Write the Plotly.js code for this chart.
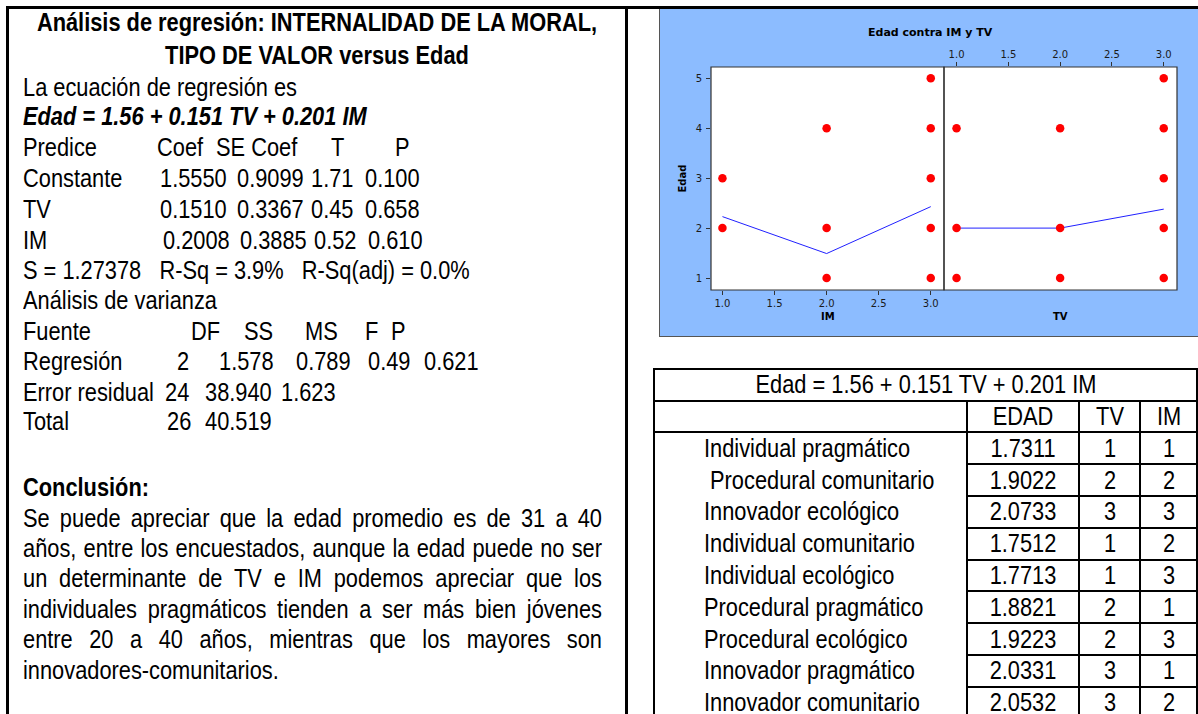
<!DOCTYPE html>
<html><head><meta charset="utf-8">
<script src="https://cdn.plot.ly/plotly-3.0.1.min.js"></script>
<style>
html,body{margin:0;padding:0;background:#fff;width:1198px;height:714px;overflow:hidden;}
body{position:relative;}
.t{position:absolute;white-space:pre;color:#000;line-height:20px;height:20px;}
.ln{position:absolute;background:#000;}
#chart{position:absolute;left:659px;top:9px;width:539px;height:328px;border-left:1px solid #555;border-bottom:1px solid #555;box-sizing:border-box;}
</style></head><body>
<div id="chart"></div>
<script>
// ---------------- DATA ----------------
const titleLines = ["Análisis de regresión: INTERNALIDAD DE LA MORAL,", "TIPO DE VALOR versus Edad"];
const introLine = "La ecuación de regresión es";
const equationText = "Edad = 1.56 + 0.151 TV + 0.201 IM";
const coefHeader = ["Predice", "Coef", "SE Coef", "T", "P"];
const coefRows = [
  ["Constante", "1.5550", "0.9099", "1.71", "0.100"],
  ["TV", "0.1510", "0.3367", "0.45", "0.658"],
  ["IM", "0.2008", "0.3885", "0.52", "0.610"]
];
const fitLine = "S = 1.27378   R-Sq = 3.9%   R-Sq(adj) = 0.0%";
const anovaTitle = "Análisis de varianza";
const anovaHeader = ["Fuente", "DF", "SS", "MS", "F", "P"];
const anovaRows = [
  ["Regresión", "2", "1.578", "0.789", "0.49", "0.621"],
  ["Error residual", "24", "38.940", "1.623"],
  ["Total", "26", "40.519"]
];
const conclTitle = "Conclusión:";
const paragraphLines = [
  "Se puede apreciar que la edad promedio es de 31 a 40",
  "años, entre los encuestados, aunque la edad puede no ser",
  "un determinante de TV e IM podemos apreciar que los",
  "individuales pragmáticos tienden a ser más bien jóvenes",
  "entre 20 a 40 años, mientras que los mayores son",
  "innovadores-comunitarios."
];

// chart data
const chartTitle = "Edad contra IM y TV";
const imX = [1, 1, 2, 2, 2, 3, 3, 3, 3, 3];
const imY = [3, 2, 4, 2, 1, 5, 4, 3, 2, 1];
const tvX = [1, 1, 1, 2, 2, 2, 3, 3, 3, 3, 3];
const tvY = [4, 2, 1, 4, 2, 1, 5, 4, 3, 2, 1];
const levels = [1, 2, 3];
const imMeans = [2.23, 1.49, 2.43];
const tvMeans = [2.0, 2.0, 2.38];
const axisTicks = [1, 1.5, 2, 2.5, 3];
const edadTicks = [1, 2, 3, 4, 5];

// table data
const tableTitle = "Edad = 1.56 + 0.151 TV + 0.201 IM";
const tableHeader = ["", "EDAD", "TV", "IM"];
const tipoNames = ["Individual pragmático", " Procedural comunitario", "Innovador ecológico", "Individual comunitario",
  "Individual ecológico", "Procedural pragmático", "Procedural ecológico", "Innovador pragmático", "Innovador comunitario"];
const edadPred = ["1.7311", "1.9022", "2.0733", "1.7512", "1.7713", "1.8821", "1.9223", "2.0331", "2.0532"];
const tvVals = [1, 2, 3, 1, 1, 2, 2, 3, 3];
const imVals = [1, 2, 3, 2, 3, 1, 3, 1, 2];

// ---------------- FONT ----------------
function fontAvailable(name) {
  const c = document.createElement('canvas').getContext('2d');
  const s = 'abcdefghijklmMWl1.0 Análisis';
  c.font = '40px monospace'; const a = c.measureText(s).width;
  c.font = '40px "' + name + '", monospace'; const b = c.measureText(s).width;
  return Math.abs(a - b) > 0.5;
}
const NARROW = fontAvailable('Liberation Sans Narrow');
const FAMILY = NARROW ? '"Liberation Sans Narrow","Arial Narrow",sans-serif' : '"Liberation Sans",Arial,sans-serif';
const SX = NARROW ? 1 : 0.82;
const FS = 26.6;

function addText(str, x, yc, align, opts) {
  opts = opts || {};
  const d = document.createElement('div');
  d.className = 't';
  d.textContent = str;
  d.style.fontFamily = FAMILY;
  d.style.fontSize = (opts.size || FS) + 'px';
  if (opts.bold) d.style.fontWeight = 'bold';
  if (opts.italic) d.style.fontStyle = 'italic';
  d.style.top = (yc - 10.5) + 'px';
  d.style.left = x + 'px';
  if (align === 'center') {
    d.style.transformOrigin = '50% 50%';
    d.style.transform = 'translateX(-50%) scaleX(' + SX + ')';
  } else {
    d.style.transformOrigin = '0 50%';
    d.style.transform = 'scaleX(' + SX + ')';
  }
  if (opts.width) {
    d.style.width = (opts.width / SX) + 'px';
    d.style.whiteSpace = 'normal';
    d.style.textAlign = 'justify';
    d.style.textAlignLast = opts.last ? 'left' : 'justify';
  }
  document.body.appendChild(d);
  return d;
}
function hline(x0, x1, y, t) {
  const d = document.createElement('div'); d.className = 'ln';
  d.style.left = x0 + 'px'; d.style.width = (x1 - x0) + 'px';
  d.style.top = (y - t / 2) + 'px'; d.style.height = t + 'px';
  document.body.appendChild(d);
}
function vline(x, y0, y1, t) {
  const d = document.createElement('div'); d.className = 'ln';
  d.style.left = (x - t / 2) + 'px'; d.style.width = t + 'px';
  d.style.top = y0 + 'px'; d.style.height = (y1 - y0) + 'px';
  document.body.appendChild(d);
}

// ---------------- DOCUMENT FRAME ----------------
hline(6, 1198, 7.5, 3);
vline(7.5, 6, 714, 3);
vline(626.5, 6, 714, 3);

// ---------------- LEFT TEXT ----------------
const LX = 23;
addText(titleLines[0], 317, 22, 'center', {bold: true});
addText(titleLines[1], 317, 55, 'center', {bold: true});
addText(introLine, LX, 87, 'left');
addText(equationText, LX, 116, 'left', {bold: true, italic: true});

const coefHeaderX = [LX, 157, 216, 331, 395];
const coefRowX = [[LX, 160, 237, 311, 365], [LX, 160, 237, 311, 365], [LX, 163, 240, 314, 368]];
const coefY = [147, 178, 209, 240];
coefHeader.forEach((s, i) => addText(s, coefHeaderX[i], coefY[0], 'left'));
coefRows.forEach((row, r) => row.forEach((s, i) => addText(s, coefRowX[r][i], coefY[r + 1], 'left')));

addText(fitLine, LX, 270, 'left');
addText(anovaTitle, LX, 300, 'left');
const anovaHeaderX = [LX, 191, 244, 305, 365, 391];
const anovaRowX = [[LX, 177, 219, 296, 368, 424], [LX, 165, 205, 281], [LX, 167, 205]];
const anovaY = [331, 361, 392, 421];
anovaHeader.forEach((s, i) => addText(s, anovaHeaderX[i], anovaY[0], 'left'));
anovaRows.forEach((row, r) => row.forEach((s, i) => addText(s, anovaRowX[r][i], anovaY[r + 1], 'left')));

addText(conclTitle, LX, 487, 'left', {bold: true});
const paraY0 = 518, paraStep = 30.4, paraW = 579;
paragraphLines.forEach((s, i) => addText(s, LX, paraY0 + i * paraStep, 'left',
  {width: paraW, last: i === paragraphLines.length - 1}));

// ---------------- TABLE ----------------
const TL = 654, TR = 1197, TT = 369;
const rowH = [31.7, 31.6];
const headerBottom = TT + rowH[0] + rowH[1];
const dataStep = 31.8;
const colX = [TL, 967, 1079, 1140, TR];
hline(TL - 1, TR + 1, TT, 2);
hline(TL - 1, TR + 1, TT + rowH[0], 2);
hline(TL - 1, TR + 1, headerBottom, 2);
vline(TL, TT - 1, 714, 2);
vline(TR, TT - 1, 714, 2);
for (let c = 1; c <= 3; c++) vline(colX[c], TT + rowH[0], 714, 2);
for (let k = 1; k <= tipoNames.length; k++) hline(colX[1], TR, headerBottom + k * dataStep, 2);

addText(tableTitle, (TL + TR) / 2, TT + rowH[0] / 2, 'center');
const colCenters = [null, (colX[1] + colX[2]) / 2, (colX[2] + colX[3]) / 2, (colX[3] + colX[4]) / 2];
const hdrY = TT + rowH[0] + rowH[1] / 2;
for (let c = 1; c < 4; c++) addText(tableHeader[c], colCenters[c], hdrY, 'center');
tipoNames.forEach((name, k) => {
  const yc = headerBottom + (k + 0.5) * dataStep;
  addText(name, 704, yc, 'left');
  addText(edadPred[k], colCenters[1], yc, 'center');
  addText(String(tvVals[k]), colCenters[2], yc, 'center');
  addText(String(imVals[k]), colCenters[3], yc, 'center');
});

// ---------------- CHART ----------------
const DIV_LEFT = 659, DIV_TOP = 9, DIV_W = 539, DIV_H = 328;
const M = {l: 51, r: 21, t: 58, b: 46};
function pX(px) { return (px - DIV_LEFT - M.l) / (DIV_W - M.l - M.r); }
function pY(py) { return (DIV_TOP + DIV_H - M.b - py) / (DIV_H - M.t - M.b); }

const tickFont = {family: 'DejaVu Sans, Verdana, sans-serif', size: 10, color: '#1a1a1a'};
const boldFont = {family: 'DejaVu Sans, Verdana, sans-serif', size: 10, color: '#000'};
const markerStyle = {color: '#ff0000', size: 8.5, line: {width: 0}};
const lineStyle = {color: '#2020ff', width: 1};

const traces = [
  {x: levels, y: imMeans, xaxis: 'x', yaxis: 'y', type: 'scatter', mode: 'lines', line: lineStyle, hoverinfo: 'skip'},
  {x: imX, y: imY, xaxis: 'x', yaxis: 'y', type: 'scatter', mode: 'markers', marker: markerStyle},
  {x: levels, y: tvMeans, xaxis: 'x2', yaxis: 'y', type: 'scatter', mode: 'lines', line: lineStyle, hoverinfo: 'skip'},
  {x: tvX, y: tvY, xaxis: 'x2', yaxis: 'y', type: 'scatter', mode: 'markers', marker: markerStyle}
];
const xCommon = {tickvals: axisTicks, tickformat: '.1f', ticks: 'outside', ticklen: 4, tickwidth: 1,
  tickcolor: '#333', showgrid: false, zeroline: false, showline: false, tickfont: tickFont, fixedrange: true};
const layout = {
  width: DIV_W - 1, height: DIV_H - 1,
  margin: M,
  paper_bgcolor: '#8CBCFF', plot_bgcolor: '#ffffff',
  showlegend: false,
  xaxis: Object.assign({}, xCommon, {domain: [0, 0.5], range: [0.89, 3.127], anchor: 'y', side: 'bottom'}),
  xaxis2: Object.assign({}, xCommon, {domain: [0.5, 1], range: [0.879, 3.128], anchor: 'y', side: 'top'}),
  yaxis: {range: [0.76, 5.227], tickvals: edadTicks, ticks: 'outside', ticklen: 4, tickwidth: 1, tickcolor: '#333',
    showgrid: false, zeroline: false, showline: false, tickfont: tickFont, anchor: 'x', fixedrange: true,
    ticklabelstandoff: 2},
  shapes: [
    {type: 'rect', xref: 'x domain', yref: 'y domain', x0: 0, x1: 1, y0: 0, y1: 1, line: {color: '#333', width: 1.2}},
    {type: 'rect', xref: 'x2 domain', yref: 'y domain', x0: 0, x1: 1, y0: 0, y1: 1, line: {color: '#333', width: 1.2}}
  ],
  annotations: [
    {text: '<b>' + chartTitle + '</b>', xref: 'paper', yref: 'paper', x: pX(930), y: pY(32), showarrow: false,
      xanchor: 'center', yanchor: 'middle', font: Object.assign({}, boldFont, {size: 11})},
    {text: '<b>IM</b>', xref: 'paper', yref: 'paper', x: 0.25, y: pY(318), showarrow: false,
      xanchor: 'center', yanchor: 'middle', font: boldFont},
    {text: '<b>TV</b>', xref: 'paper', yref: 'paper', x: 0.75, y: pY(318), showarrow: false,
      xanchor: 'center', yanchor: 'middle', font: boldFont},
    {text: '<b>Edad</b>', xref: 'paper', yref: 'paper', x: pX(681), y: pY(179), showarrow: false, textangle: -90,
      xanchor: 'center', yanchor: 'middle', font: boldFont}
  ]
};
Plotly.newPlot('chart', traces, layout, {displayModeBar: false, staticPlot: true});
</script></body></html>
